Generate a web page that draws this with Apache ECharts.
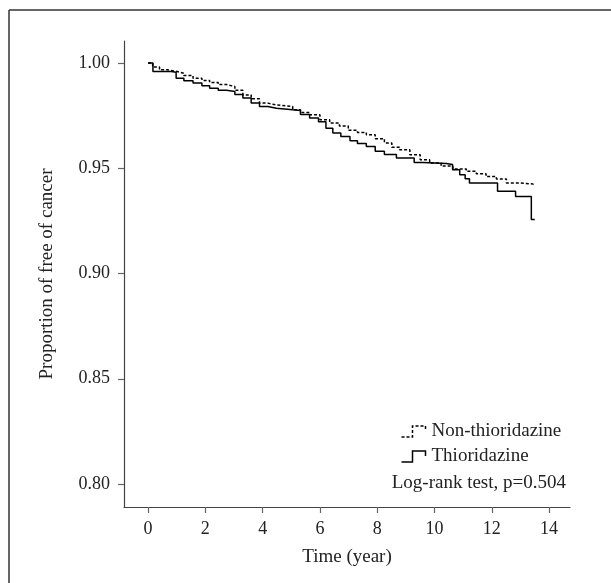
<!DOCTYPE html>
<html>
<head>
<meta charset="utf-8">
<script src="https://cdn.jsdelivr.net/npm/echarts@6/dist/echarts.min.js"></script>
<style>
html,body{margin:0;padding:0;background:#fff;}
#chart{width:611px;height:583px;}
</style>
</head>
<body>
<div id="chart"></div>
<script>
// Kaplan-Meier step data
const thioTimes = [0, 0.17, 0.81, 0.98, 1.25, 1.57, 1.88, 2.15, 2.45, 2.74, 3.03, 3.31, 3.60, 3.89, 4.18, 4.48, 5.05, 5.32, 5.64, 5.95, 6.21, 6.45, 6.73, 7.05, 7.31, 7.62, 7.93, 8.25, 8.67, 9.29, 9.60, 10.41, 10.63, 10.88, 11.07, 11.22, 12.20, 12.83, 13.38, 13.50];
const thioValues = [1.0, 0.9959, 0.9956, 0.9927, 0.9915, 0.9904, 0.9892, 0.988, 0.987, 0.9864, 0.985, 0.9833, 0.981, 0.9793, 0.9785, 0.9777, 0.9774, 0.9755, 0.9738, 0.972, 0.969, 0.9667, 0.965, 0.963, 0.9617, 0.9603, 0.958, 0.9565, 0.9548, 0.9527, 0.9522, 0.9517, 0.9493, 0.9469, 0.945, 0.943, 0.939, 0.9365, 0.9256, 0.9256];
const nonTimes = [0, 0.16, 0.40, 0.68, 0.98, 1.25, 1.57, 1.88, 2.15, 2.45, 2.74, 3.03, 3.31, 3.60, 3.89, 4.18, 4.48, 5.05, 5.32, 5.64, 6.00, 6.34, 6.68, 6.99, 7.31, 7.62, 7.93, 8.25, 8.51, 8.78, 9.14, 9.50, 9.83, 10.23, 10.64, 11.11, 11.46, 11.80, 12.16, 12.51, 12.97, 13.44];
const nonValues = [1.0, 0.998, 0.9967, 0.996, 0.9951, 0.994, 0.9927, 0.9917, 0.9907, 0.9897, 0.9888, 0.987, 0.9848, 0.983, 0.9809, 0.980, 0.9793, 0.9777, 0.9765, 0.9754, 0.973, 0.9714, 0.970, 0.968, 0.967, 0.9659, 0.964, 0.962, 0.960, 0.9588, 0.9564, 0.954, 0.9525, 0.951, 0.9496, 0.9485, 0.9474, 0.946, 0.9449, 0.943, 0.9425, 0.9414];
const xTicks = [0, 2, 4, 6, 8, 10, 12, 14];
const yTicks = [0.80, 0.85, 0.90, 0.95, 1.00];
const seriesNames = ['Non-thioridazine', 'Thioridazine'];
const xTitle = 'Time (year)';
const yTitle = 'Proportion of free of cancer';
const testText = 'Log-rank test, p=0.504';

const FONT = 'Liberation Serif';
const zip = (a, b) => a.map((t, i) => [t, b[i]]);
const stepIcon = 'path://M0,12 L11,12 L11,1 L24,1 L24,6';

const chart = echarts.init(document.getElementById('chart'), null, {renderer: 'canvas'});
chart.setOption({
  animation: false,
  backgroundColor: '#fff',
  textStyle: {fontFamily: FONT, color: '#222'},
  grid: {left: 124, right: 41, top: 41, bottom: 76, containLabel: false, outerBoundsMode: 'none'},
  xAxis: {
    type: 'value',
    min: -0.84, max: 14.73,
    name: xTitle, nameLocation: 'middle', nameGap: 41,
    nameTextStyle: {fontFamily: FONT, fontSize: 19, color: '#222'},
    axisLine: {show: true, onZero: false, lineStyle: {color: '#444', width: 1.2}},
    axisTick: {show: true, length: 6, customValues: xTicks, lineStyle: {color: '#666', width: 1.2}},
    axisLabel: {customValues: xTicks, margin: 13, fontFamily: FONT, fontSize: 18, color: '#222'},
    splitLine: {show: false}
  },
  yAxis: {
    type: 'value',
    min: 0.7891, max: 1.0104,
    name: yTitle, nameLocation: 'middle', nameGap: 67, nameRotate: 90,
    nameTextStyle: {fontFamily: FONT, fontSize: 19, color: '#222'},
    axisLine: {show: true, onZero: false, lineStyle: {color: '#444', width: 1.2}},
    axisTick: {show: true, length: 6, customValues: yTicks, lineStyle: {color: '#666', width: 1.2}},
    axisLabel: {customValues: yTicks, margin: 14, fontFamily: FONT, fontSize: 18, color: '#222',
      formatter: v => v.toFixed(2)},
    splitLine: {show: false}
  },
  legend: {
    orient: 'vertical', left: 394, top: 417, itemGap: 6,
    itemWidth: 26, itemHeight: 11,
    textStyle: {fontFamily: FONT, fontSize: 19, color: '#222'},
    data: [
      {name: seriesNames[0], icon: stepIcon, itemStyle: {color: 'none', borderColor: '#000', borderWidth: 1.5, borderType: [3, 2]}},
      {name: seriesNames[1], icon: stepIcon, itemStyle: {color: 'none', borderColor: '#000', borderWidth: 1.5}}
    ]
  },
  graphic: [
    {type: 'line', shape: {x1: 9, y1: 10, x2: 9, y2: 583}, style: {stroke: '#333', lineWidth: 1.5}},
    {type: 'line', shape: {x1: 9, y1: 10, x2: 611, y2: 10}, style: {stroke: '#333', lineWidth: 1.5}},
    {type: 'text', x: 566, y: 483, style: {text: testText, font: '19px "' + FONT + '"', fill: '#222', textAlign: 'right', textVerticalAlign: 'middle'}}
  ],
  series: [
    {name: seriesNames[0], type: 'line', step: 'end', symbol: 'none', data: zip(nonTimes, nonValues),
      lineStyle: {color: '#000', width: 1.5, type: [3, 2]}, itemStyle: {color: '#000'}},
    {name: seriesNames[1], type: 'line', step: 'end', symbol: 'none', data: zip(thioTimes, thioValues),
      lineStyle: {color: '#000', width: 1.5}, itemStyle: {color: '#000'}}
  ]
});
</script>
</body>
</html>
